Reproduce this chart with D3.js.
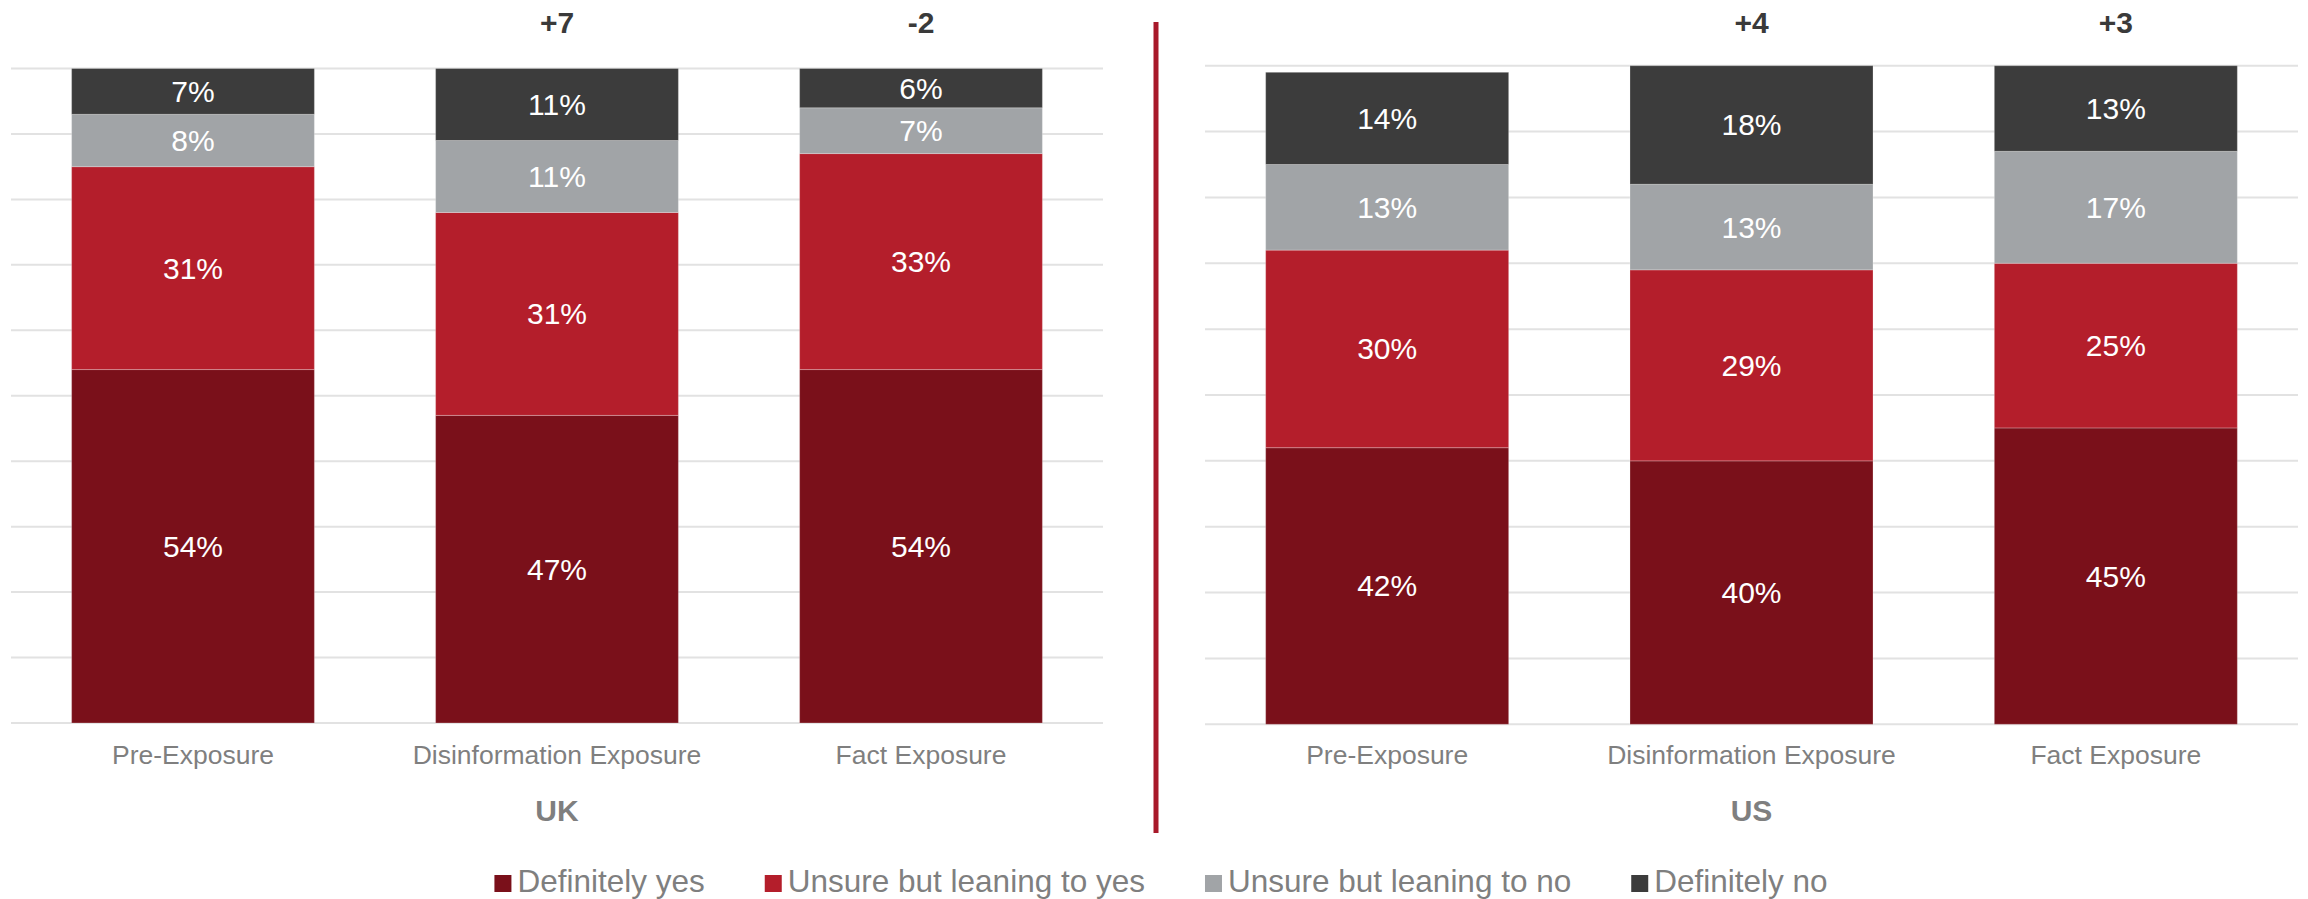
<!DOCTYPE html>
<html>
<head>
<meta charset="utf-8">
<script src="https://cdn.jsdelivr.net/npm/d3@7"></script>
<style>
  html, body { margin: 0; padding: 0; background: #ffffff; }
  svg { display: block; font-family: "Liberation Sans", Arial, sans-serif; }
</style>
</head>
<body>
<svg id="chart" width="2308" height="899"></svg>
<script>
// ---------- data ----------
const groups = ["UK", "US"];
const categories = ["Pre-Exposure", "Disinformation Exposure", "Fact Exposure"];
const seriesNames = ["Definitely yes", "Unsure but leaning to yes", "Unsure but leaning to no", "Definitely no"];
const seriesColors = ["#7a101a", "#b41e2b", "#a1a4a7", "#3c3c3c"];

const ukDefinitelyYes = [54, 47, 54];
const ukLeaningYes    = [31, 31, 33];
const ukLeaningNo     = [8, 11, 7];
const ukDefinitelyNo  = [7, 11, 6];
const ukChange        = ["", "+7", "-2"];

const usDefinitelyYes = [42, 40, 45];
const usLeaningYes    = [30, 29, 25];
const usLeaningNo     = [13, 13, 17];
const usDefinitelyNo  = [14, 18, 13];
const usChange        = ["", "+4", "+3"];

const gridTicks = [0, 10, 20, 30, 40, 50, 60, 70, 80, 90, 100];

// ---------- layout ----------
const svg = d3.select("#chart");
const panels = [
  { name: groups[0], series: [ukDefinitelyYes, ukLeaningYes, ukLeaningNo, ukDefinitelyNo], change: ukChange,
    x0: 11, x1: 1103, yBottom: 723, yTop: 68.5 },
  { name: groups[1], series: [usDefinitelyYes, usLeaningYes, usLeaningNo, usDefinitelyNo], change: usChange,
    x0: 1205, x1: 2298, yBottom: 724.3, yTop: 65.7 }
];

panels.forEach(p => {
  const g = svg.append("g");
  const x = d3.scaleBand().domain(categories).range([p.x0, p.x1]).paddingInner(0.333).paddingOuter(0.1665);
  const y = d3.scaleLinear().domain([0, 100]).range([p.yBottom, p.yTop]);

  // gridlines
  g.append("g").selectAll("line").data(gridTicks).join("line")
    .attr("x1", p.x0).attr("x2", p.x1)
    .attr("y1", d => y(d)).attr("y2", d => y(d))
    .attr("stroke", "#e2e2e2").attr("stroke-width", 2);

  // stacked data
  const rows = categories.map((c, i) => {
    const r = { cat: c };
    seriesNames.forEach((s, k) => r[s] = p.series[k][i]);
    return r;
  });
  const stacked = d3.stack().keys(seriesNames)(rows);

  stacked.forEach((layer, k) => {
    const lg = g.append("g");
    lg.selectAll("rect").data(layer).join("rect")
      .attr("x", d => x(d.data.cat))
      .attr("width", x.bandwidth())
      .attr("y", d => y(d[1]))
      .attr("height", d => y(d[0]) - y(d[1]))
      .attr("fill", seriesColors[k])
      .attr("stroke", "rgba(255,255,255,0.25)")
      .attr("stroke-width", 1);
    lg.selectAll("text").data(layer).join("text")
      .attr("x", d => x(d.data.cat) + x.bandwidth() / 2)
      .attr("y", d => (y(d[0]) + y(d[1])) / 2)
      .attr("text-anchor", "middle")
      .attr("dominant-baseline", "central")
      .attr("fill", "#ffffff")
      .attr("font-size", 30)
      .text(d => (d[1] - d[0]) + "%");
  });

  // change labels above bars
  g.append("g").selectAll("text").data(categories).join("text")
    .attr("x", d => x(d) + x.bandwidth() / 2)
    .attr("y", 33.3)
    .attr("text-anchor", "middle")
    .attr("font-size", 30).attr("font-weight", "bold")
    .attr("fill", "#3a3a3a")
    .text((d, i) => p.change[i]);

  // category axis
  const axis = d3.axisBottom(x).tickSize(0).tickPadding(0);
  const ag = g.append("g").attr("transform", `translate(0,${p.yBottom})`).call(axis);
  ag.select(".domain").remove();
  ag.selectAll("text")
    .attr("y", 764 - p.yBottom).attr("dy", null)
    .attr("font-size", 26.5)
    .attr("font-family", "Liberation Sans, Arial, sans-serif")
    .attr("fill", "#7f7f7f");

  // group label
  g.append("text")
    .attr("x", (p.x0 + p.x1) / 2)
    .attr("y", 821)
    .attr("text-anchor", "middle")
    .attr("font-size", 30).attr("font-weight", "bold")
    .attr("fill", "#7f7f7f")
    .text(p.name);
});

// divider
svg.append("rect")
  .attr("x", 1153.5).attr("y", 22).attr("width", 5).attr("height", 811)
  .attr("fill", "#a8192a");

// legend (laid out from measured text widths, centred)
const legendG = svg.append("g");
const items = legendG.selectAll("g").data(seriesNames).join("g");
items.append("rect").attr("x", 0).attr("y", 875).attr("width", 17).attr("height", 17)
  .attr("fill", (d, i) => seriesColors[i]);
items.append("text").attr("x", 23).attr("y", 892.3)
  .attr("font-size", 31.5).attr("fill", "#7f7f7f")
  .text(d => d);
const widths = [];
items.each(function () { widths.push(23 + d3.select(this).select("text").node().getComputedTextLength()); });
const gap = 60;
const total = d3.sum(widths) + gap * (widths.length - 1);
let cx = 1161 - total / 2;
items.attr("transform", (d, i) => {
  const t = `translate(${cx},0)`;
  cx += widths[i] + gap;
  return t;
});
</script>
</body>
</html>
